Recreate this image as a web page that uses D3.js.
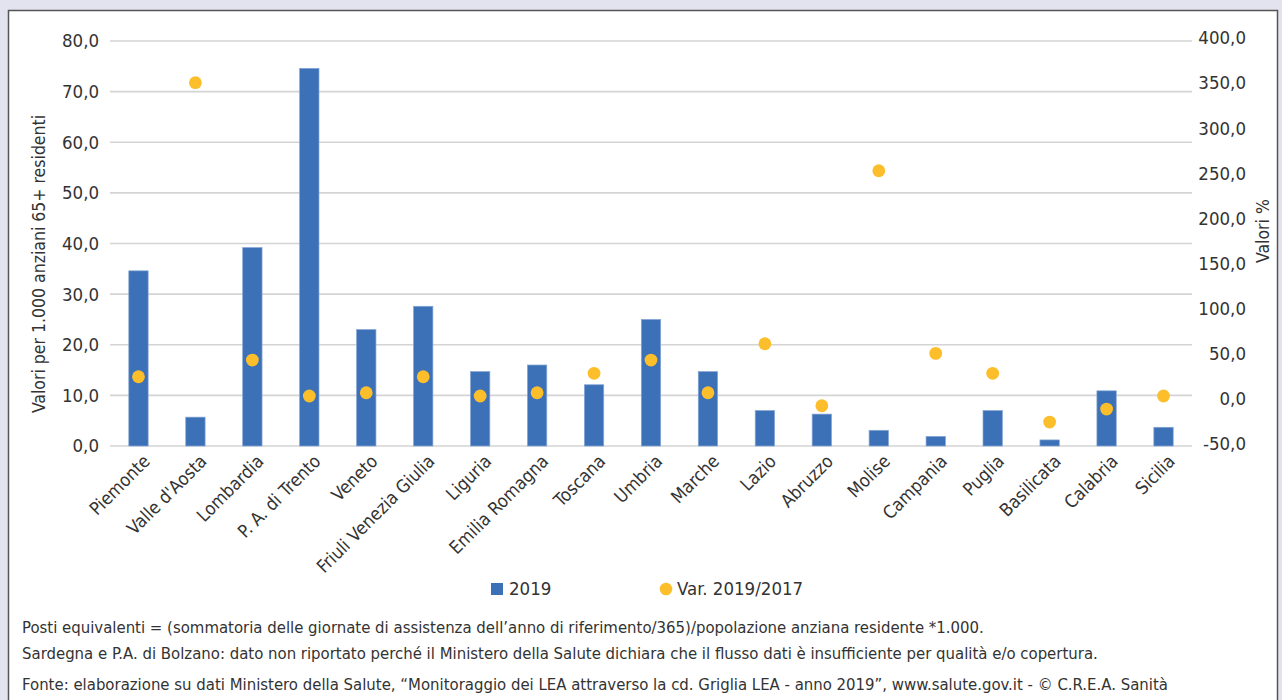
<!DOCTYPE html>
<html><head><meta charset="utf-8">
<script src="https://cdn.jsdelivr.net/npm/d3@7"></script>
<style>
html,body{margin:0;padding:0;background:#e2e3ef;}
svg{display:block;}
text{font-family:"Liberation Sans Narrow","Arial Narrow","DejaVu Sans Condensed",sans-serif;fill:#333;}
</style></head>
<body>
<svg id="chart" width="1282" height="700"></svg>
<script>
const categories = ["Piemonte","Valle d'Aosta","Lombardia","P. A. di Trento","Veneto","Friuli Venezia Giulia","Liguria","Emilia Romagna","Toscana","Umbria","Marche","Lazio","Abruzzo","Molise","Campania","Puglia","Basilicata","Calabria","Sicilia"];
const values2019 = [34.6,5.7,39.2,74.6,23.0,27.6,14.7,16.0,12.1,25.0,14.7,7.0,6.3,3.1,1.9,7.0,1.2,10.9,3.7];
const var2019_2017 = [24.1,350.4,42.6,2.7,6.3,24.1,2.7,6.3,27.9,42.6,6.3,60.7,-8.1,252.7,50.0,27.9,-26.2,-11.8,2.7];
const leftTicks = [0,10,20,30,40,50,60,70,80];
const rightTicks = [-50,0,50,100,150,200,250,300,350,400];
const leftTitle = "Valori per 1.000 anziani 65+ residenti";
const rightTitle = "Valori %";
const legendLabels = ["2019","Var. 2019/2017"];
const notes = [
 "Posti equivalenti = (sommatoria delle giornate di assistenza dell\u2019anno di riferimento/365)/popolazione anziana residente *1.000.",
 "Sardegna e P.A. di Bolzano: dato non riportato perch\u00e9 il Ministero della Salute dichiara che il flusso dati \u00e8 insufficiente per qualit\u00e0 e/o copertura.",
 "Fonte: elaborazione su dati Ministero della Salute, \u201cMonitoraggio dei LEA attraverso la cd. Griglia LEA - anno 2019\u201d, www.salute.gov.it - \u00a9 C.R.E.A. Sanit\u00e0"
];

const svg = d3.select("#chart");
const fmt = d3.formatLocale({decimal:",",thousands:".",grouping:[3],currency:["\u20ac",""],minus:"-"}).format(".1f");

const BLUE = "#3c71b8", GOLD = "#fcbe2b";

// panel
svg.append("rect").attr("x",8.5).attr("y",10.5).attr("width",1269).attr("height",700)
  .attr("fill","#fff").attr("stroke","#555").attr("stroke-width",1.5);

const L = 110, R = 1192, T = 41, B = 446;
const x = d3.scaleBand().domain(categories).range([L,R]).padding(0);
const yL = d3.scaleLinear().domain([0,80]).range([B,T]);
const yR = d3.scaleLinear().domain([-50,400]).range([443.5,38]);

// gridlines
svg.append("g").selectAll("line").data(leftTicks).join("line")
  .attr("x1",L).attr("x2",R).attr("y1",d=>yL(d)).attr("y2",d=>yL(d))
  .attr("stroke","#d4d4d4").attr("stroke-width",1.6);

// left axis
const gL = svg.append("g").attr("transform",`translate(${L},0)`)
  .call(d3.axisLeft(yL).tickValues(leftTicks).tickFormat(fmt).tickSize(0).tickPadding(11));
gL.select(".domain").remove();
gL.selectAll("text").style("font-size","18.5px").style("font-family",null).attr("fill","#333");

// right axis
const gR = svg.append("g").attr("transform",`translate(${R},0)`)
  .call(d3.axisRight(yR).tickValues(rightTicks).tickFormat(fmt).tickSize(0));
gR.select(".domain").remove();
gR.selectAll("text").style("font-size","18.5px").style("font-family",null).attr("fill","#333")
  .attr("text-anchor","end").attr("x",54);

// bars
const bw = x.bandwidth()*0.34;
svg.append("g").selectAll("rect").data(categories).join("rect")
  .attr("x",(d)=>x(d)+x.bandwidth()/2-bw/2)
  .attr("width",bw)
  .attr("y",(d,i)=>yL(values2019[i]))
  .attr("height",(d,i)=>yL(0)-yL(values2019[i]))
  .attr("fill",BLUE).attr("stroke","#86a6d4").attr("stroke-width",0.7);

// dots
svg.append("g").selectAll("circle").data(categories).join("circle")
  .attr("cx",d=>x(d)+x.bandwidth()/2)
  .attr("cy",(d,i)=>yR(var2019_2017[i]))
  .attr("r",6.4).attr("fill",GOLD);

// x labels
svg.append("g").selectAll("text").data(categories).join("text")
  .attr("transform",d=>`translate(${x(d)+x.bandwidth()/2+8},${B+12}) rotate(-45)`)
  .attr("text-anchor","end").attr("dy","0.35em")
  .style("font-size","18px").text(d=>d);

// axis titles
svg.append("text").attr("transform",`translate(45,264) rotate(-90)`)
  .attr("text-anchor","middle").style("font-size","17.5px").text(leftTitle);
svg.append("text").attr("transform",`translate(1269,231) rotate(-90)`)
  .attr("text-anchor","middle").style("font-size","17.5px").text(rightTitle);

// legend
const lg = svg.append("g");
lg.append("rect").attr("x",491).attr("y",583).attr("width",12).attr("height",12).attr("fill",BLUE);
lg.append("text").attr("x",509).attr("y",589).attr("dy","0.35em").style("font-size","18.5px").text(legendLabels[0]);
lg.append("circle").attr("cx",666).attr("cy",589).attr("r",6.3).attr("fill",GOLD);
lg.append("text").attr("x",677).attr("y",589).attr("dy","0.35em").style("font-size","18.5px").text(legendLabels[1]);

// notes
const ny = [633,659,690];
svg.append("g").selectAll("text").data(notes).join("text")
  .attr("x",22).attr("y",(d,i)=>ny[i]).style("font-size","16.6px").text(d=>d);
</script>
</body></html>
